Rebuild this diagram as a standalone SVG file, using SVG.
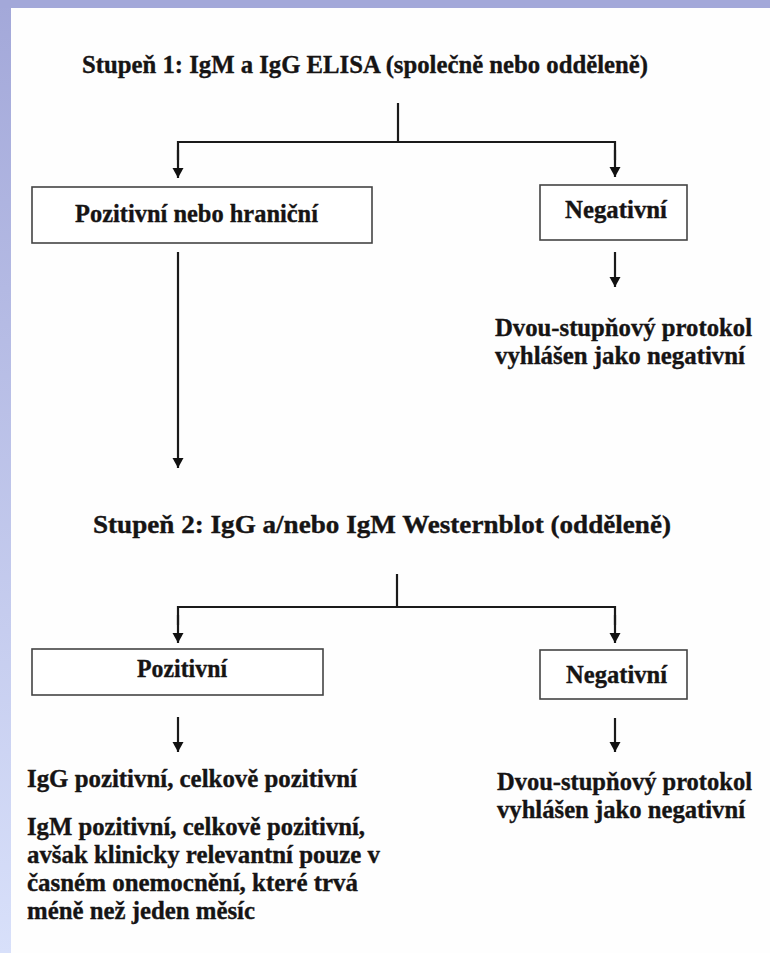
<svg xmlns="http://www.w3.org/2000/svg" width="770" height="953" viewBox="0 0 770 953">
<defs>
<linearGradient id="band" x1="0" y1="0" x2="0" y2="1">
<stop offset="0" stop-color="#a3a8d9"/>
<stop offset="1" stop-color="#d8e0fa"/>
</linearGradient>
<marker id="ah" markerUnits="userSpaceOnUse" markerWidth="12" markerHeight="12" refX="10" refY="5.5" orient="auto">
<path d="M0,0 L10,5.5 L0,11 Z" fill="#111"/>
</marker>
<style>
.t{font-family:"Liberation Serif","Times New Roman",Times,serif;font-weight:700;font-size:24.5px;fill:#161414;stroke:#161414;stroke-width:0.35}
.box{fill:#fff;stroke:#444;stroke-width:1.6}
.ln{stroke:#1a1a1a;stroke-width:2.2;fill:none}
.ar{stroke:#1a1a1a;stroke-width:2.2;fill:none;marker-end:url(#ah)}
</style>
</defs>
<rect width="770" height="953" fill="#fefefe"/>
<rect x="0" y="0" width="11" height="953" fill="url(#band)"/>
<rect x="0" y="0" width="770" height="8" fill="#a3a8d9"/>

<g id="connectors">
<line class="ln" x1="398" y1="103" x2="398" y2="142"/>
<polyline class="ln" points="178,160 178,142 615,142 615,160"/>
<line class="ar" x1="178" y1="150" x2="178" y2="178"/>
<line class="ar" x1="615" y1="150" x2="615" y2="177"/>
<line class="ar" x1="178" y1="252" x2="178" y2="468"/>
<line class="ar" x1="615" y1="252" x2="615" y2="287"/>
<line class="ln" x1="397" y1="574" x2="397" y2="607"/>
<polyline class="ln" points="178,625 178,607 615,607 615,625"/>
<line class="ar" x1="178" y1="615" x2="178" y2="643"/>
<line class="ar" x1="615" y1="615" x2="615" y2="643"/>
<line class="ar" x1="178" y1="717" x2="178" y2="752"/>
<line class="ar" x1="615" y1="718" x2="615" y2="752"/>
</g>

<g id="stage1">
<text class="t" x="82" y="73" textLength="566" lengthAdjust="spacingAndGlyphs">Stupeň 1: IgM a IgG ELISA (společně nebo odděleně)</text>
</g>
<g id="pos1">
<rect class="box" x="32" y="187" width="340" height="56"/>
<text class="t" x="75" y="222" textLength="243" lengthAdjust="spacingAndGlyphs">Pozitivní nebo hraniční</text>
</g>
<g id="neg1">
<rect class="box" x="540" y="185" width="147" height="55"/>
<text class="t" x="565" y="218" textLength="102" lengthAdjust="spacingAndGlyphs">Negativní</text>
</g>
<g id="result-neg1">
<text class="t" x="495" y="336" textLength="257" lengthAdjust="spacingAndGlyphs">Dvou-stupňový protokol</text>
<text class="t" x="495" y="364" textLength="250" lengthAdjust="spacingAndGlyphs">vyhlášen jako negativní</text>
</g>
<g id="stage2">
<text class="t" x="93" y="533" textLength="578" lengthAdjust="spacingAndGlyphs">Stupeň 2: IgG a/nebo IgM Westernblot (odděleně)</text>
</g>
<g id="pos2">
<rect class="box" x="32" y="649" width="291" height="46"/>
<text class="t" x="137" y="677" textLength="90" lengthAdjust="spacingAndGlyphs">Pozitivní</text>
</g>
<g id="neg2">
<rect class="box" x="540" y="650" width="147" height="49"/>
<text class="t" x="566" y="683" textLength="101" lengthAdjust="spacingAndGlyphs">Negativní</text>
</g>
<g id="result-pos2">
<text class="t" x="27" y="787" textLength="330" lengthAdjust="spacingAndGlyphs">IgG pozitivní, celkově pozitivní</text>
<text class="t" x="27" y="835" textLength="338" lengthAdjust="spacingAndGlyphs">IgM pozitivní, celkově pozitivní,</text>
<text class="t" x="27" y="863" textLength="353" lengthAdjust="spacingAndGlyphs">avšak klinicky relevantní pouze v</text>
<text class="t" x="27" y="891" textLength="331" lengthAdjust="spacingAndGlyphs">časném onemocnění, které trvá</text>
<text class="t" x="27" y="919" textLength="228" lengthAdjust="spacingAndGlyphs">méně než jeden měsíc</text>
</g>
<g id="result-neg2">
<text class="t" x="497" y="790" textLength="255" lengthAdjust="spacingAndGlyphs">Dvou-stupňový protokol</text>
<text class="t" x="497" y="818" textLength="248" lengthAdjust="spacingAndGlyphs">vyhlášen jako negativní</text>
</g>
</svg>
